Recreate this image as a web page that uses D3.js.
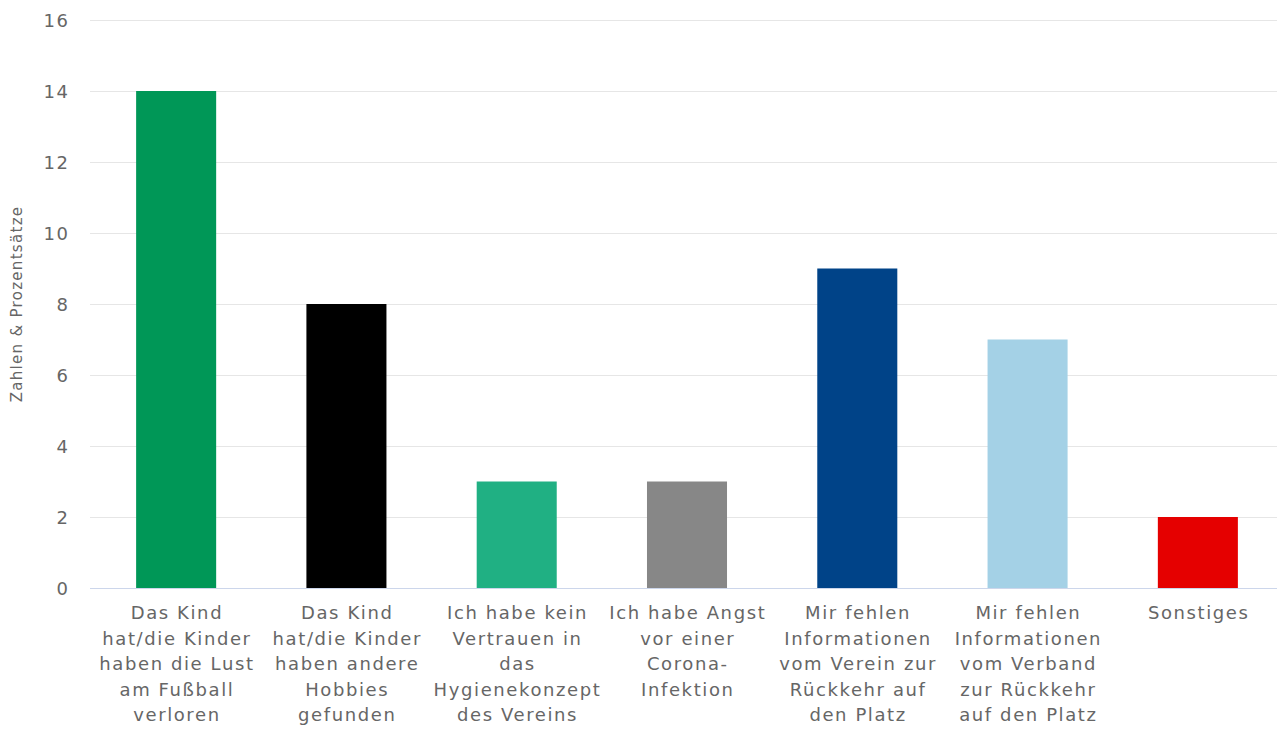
<!DOCTYPE html>
<html><head><meta charset="utf-8">
<script src="https://cdn.jsdelivr.net/npm/d3@7"></script>
<style>body{margin:0;background:#fff}svg{display:block}text{font-family:"DejaVu Sans",sans-serif}</style>
</head><body>
<svg id="c" width="1277" height="729"></svg>
<script>
const categories = [
  "Das Kind\nhat/die Kinder\nhaben die Lust\nam Fußball\nverloren",
  "Das Kind\nhat/die Kinder\nhaben andere\nHobbies\ngefunden",
  "Ich habe kein\nVertrauen in\ndas\nHygienekonzept\ndes Vereins",
  "Ich habe Angst\nvor einer\nCorona-\nInfektion",
  "Mir fehlen\nInformationen\nvom Verein zur\nRückkehr auf\nden Platz",
  "Mir fehlen\nInformationen\nvom Verband\nzur Rückkehr\nauf den Platz",
  "Sonstiges"
];
const values = [14, 8, 3, 3, 9, 7, 2];
const colors = ["#009757", "#000000", "#20b083", "#878787", "#004388", "#a4d1e6", "#e50000"];
const yTicks = [0, 2, 4, 6, 8, 10, 12, 14, 16];
const yTitle = "Zahlen & Prozentsätze";

(function () {
const svg = d3.select("#c");
const pLeft = 91, pRight = 1283, pTop = 20, pBottom = 588;
const x = d3.scaleBand().domain(d3.range(categories.length)).range([pLeft, pRight]).paddingInner(0.53).paddingOuter(0.265);
const y = d3.scaleLinear().domain([0, 16]).range([pBottom, pTop]);

svg.append("g").selectAll("line").data(yTicks.filter(d => d > 0)).join("line")
  .attr("x1", 90).attr("x2", 1277).attr("y1", d => y(d) + 0.5).attr("y2", d => y(d) + 0.5)
  .attr("stroke", "#e6e6e6").attr("stroke-width", 1);

svg.append("g").selectAll("rect").data(values).join("rect")
  .attr("x", (d, i) => x(i)).attr("width", x.bandwidth())
  .attr("y", d => y(d)).attr("height", d => y(0) - y(d))
  .attr("fill", (d, i) => colors[i]);

svg.append("line").attr("x1", 90).attr("x2", 1277).attr("y1", pBottom + 0.5).attr("y2", pBottom + 0.5)
  .attr("stroke", "#ccd6eb").attr("stroke-width", 1);

const yAxis = d3.axisLeft(y).tickValues(yTicks).tickSize(0).tickPadding(0);
const ga = svg.append("g").attr("transform", "translate(69.5,0)").call(yAxis);
ga.select(".domain").remove();
ga.selectAll("text").attr("font-size", 18).attr("letter-spacing", 1.5).attr("fill", "#666")
  .attr("font-family", "DejaVu Sans").attr("dy", "0.35em");

svg.append("text").attr("transform", `translate(22,${(pTop + pBottom) / 2}) rotate(-90)`)
  .attr("text-anchor", "middle").attr("font-size", 15).attr("letter-spacing", 1.3)
  .attr("fill", "#666").text(yTitle);

const lab = svg.append("g").selectAll("text").data(categories).join("text")
  .attr("text-anchor", "middle").attr("font-size", 18).attr("letter-spacing", 1.6).attr("fill", "#666")
  .attr("transform", (d, i) => `translate(${x(i) + x.bandwidth() / 2 + 0.8},619)`);
lab.each(function (d) {
  const t = d3.select(this);
  d.split("\n").forEach((ln, k) => t.append("tspan").attr("x", 0).attr("y", k * 25.5).text(ln));
});
})();
</script>
</body></html>
